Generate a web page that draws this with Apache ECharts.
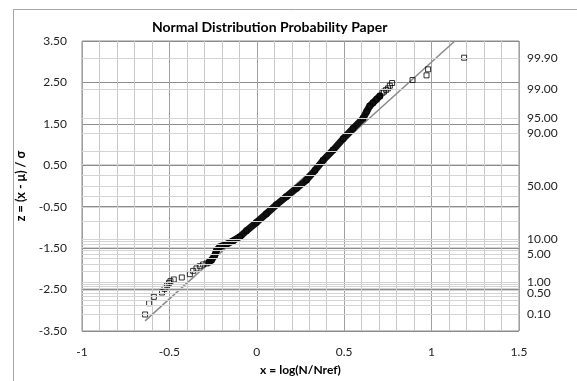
<!DOCTYPE html>
<html>
<head>
<meta charset="utf-8">
<script src="https://cdn.jsdelivr.net/npm/echarts@6/dist/echarts.min.js"></script>
<style>html,body{margin:0;padding:0;background:#fff;}#c{width:577px;height:381px;}</style>
</head>
<body>
<div id="c"></div>
<script>
// ---- data ----
const xTicks = [-1, -0.5, 0, 0.5, 1, 1.5];
const zTicks = [-3.5, -2.5, -1.5, -0.5, 0.5, 1.5, 2.5, 3.5];
// probability levels (percent) and their standard normal z positions
const probLevels = [99.9, 99, 95, 90, 80, 70, 60, 50, 40, 30, 20, 10, 9, 8, 7, 6, 5, 4, 3, 2, 1, 0.9, 0.8, 0.7, 0.6, 0.5, 0.4, 0.3, 0.2, 0.1];
const probZ = [3.0902, 2.3263, 1.6449, 1.2816, 0.8416, 0.5244, 0.2533, 0, -0.2533, -0.5244, -0.8416, -1.2816, -1.3408, -1.4051, -1.4758, -1.5548, -1.6449, -1.7507, -1.8808, -2.0537, -2.3263, -2.3656, -2.4089, -2.4573, -2.5121, -2.5758, -2.6521, -2.7478, -2.8782, -3.0902];
const probLabeled = [99.9, 99, 95, 90, 50, 10, 5, 1, 0.5, 0.1];

const tailLowX = [-0.639, -0.616, -0.589, -0.542, -0.528, -0.513, -0.502, -0.494, -0.475, -0.429, -0.383, -0.364, -0.345, -0.326, -0.307, -0.288];
const tailLowZ = [-3.101, -2.829, -2.676, -2.570, -2.483, -2.394, -2.338, -2.297, -2.256, -2.208, -2.128, -2.048, -1.990, -1.935, -1.894, -1.870];
const bandX = [-0.273, -0.259, -0.240, -0.230, -0.212, -0.173, -0.136, -0.097, -0.059, -0.002, 0.055, 0.113, 0.170, 0.227, 0.284, 0.332, 0.379, 0.437, 0.494, 0.551, 0.608, 0.628, 0.646, 0.665, 0.685, 0.704];
const bandZ = [-1.838, -1.790, -1.669, -1.548, -1.469, -1.403, -1.324, -1.227, -1.080, -0.880, -0.670, -0.450, -0.255, -0.058, 0.143, 0.376, 0.618, 0.870, 1.140, 1.391, 1.633, 1.792, 1.930, 2.010, 2.092, 2.171];
const tailHighX = [0.719, 0.728, 0.740, 0.751, 0.761, 0.774, 0.891, 0.971, 0.980, 1.186];
const tailHighZ = [2.251, 2.280, 2.320, 2.357, 2.420, 2.486, 2.558, 2.671, 2.816, 3.097];
// fitted normal line end points
const fitX = [-0.639, 1.133];
const fitZ = [-3.256, 3.5];

const zip = (a, b) => a.map((v, i) => [v, b[i]]);
const allPts = zip(tailLowX, tailLowZ).concat(zip(bandX, bandZ), zip(tailHighX, tailHighZ));

const FONT = 'Lato, "Open Sans", sans-serif';

const chart = echarts.init(document.getElementById('c'), null, {renderer: 'canvas'});
chart.setOption({
  animation: false,
  backgroundColor: '#fff',
  title: {
    text: 'Normal Distribution Probability Paper',
    left: 147, top: 15,
    textStyle: {fontFamily: FONT, fontSize: 14, fontWeight: 'bold', color: '#000'}
  },
  graphic: [{
    type: 'rect', left: 11, top: 7, silent: true,
    shape: {x: 0, y: 0, width: 600, height: 400},
    style: {fill: 'none', stroke: '#a6a6a6', lineWidth: 1}
  }],
  grid: {left: 82, top: 41, right: 58, bottom: 50, show: true, borderColor: '#8c8c8c', borderWidth: 1},
  xAxis: {
    type: 'value', min: xTicks[0], max: xTicks[xTicks.length - 1], interval: 0.5,
    name: 'x = log(N/Nref)', nameLocation: 'middle', nameGap: 33,
    nameTextStyle: {fontFamily: FONT, fontSize: 12, fontWeight: 'bold', color: '#000'},
    axisLine: {show: false}, axisTick: {show: false},
    axisLabel: {fontFamily: FONT, fontSize: 12, color: '#222', margin: 15,
      formatter: v => String(Math.round(v * 10) / 10)},
    splitLine: {show: true, lineStyle: {color: '#a0a0a0', width: 1}},
    minorTick: {show: false, splitNumber: 5},
    minorSplitLine: {show: true, lineStyle: {color: '#c8c8c8', width: 1}}
  },
  yAxis: {
    type: 'value', min: zTicks[0], max: zTicks[zTicks.length - 1], interval: 1,
    name: 'z = (x - μ) / σ', nameLocation: 'middle', nameGap: 49, nameRotate: 90,
    nameTextStyle: {fontFamily: FONT, fontSize: 12.5, fontWeight: 'bold', color: '#000'},
    axisLine: {show: false}, axisTick: {show: false},
    axisLabel: {fontFamily: FONT, fontSize: 12, color: '#222', margin: 15,
      formatter: v => v.toFixed(2)},
    splitLine: {show: true, lineStyle: {color: '#8c8c8c', width: 1}}
  },
  series: [
    {
      type: 'line', data: zip(fitX, fitZ), symbol: 'none', silent: true, z: 2,
      lineStyle: {color: '#8a8a8a', width: 1.5},
      markLine: {
        silent: true, symbol: 'none', animation: false,
        data: probLevels.map((p, i) => ({
          yAxis: probZ[i],
          lineStyle: {color: '#d4d4d4', width: 1.2, type: 'solid'},
          label: {show: probLabeled.includes(p), position: 'end', distance: 8,
            formatter: p.toFixed(2), fontFamily: FONT, fontSize: 12, color: '#222'}
        }))
      }
    },
    {
      type: 'line', data: zip(bandX, bandZ), symbol: 'none', silent: true, z: 3,
      lineStyle: {color: '#111', width: 7, cap: 'round', join: 'round'}
    },
    {
      type: 'scatter', data: allPts, symbol: 'rect', symbolSize: 5, z: 4,
      itemStyle: {color: 'rgba(0,0,0,0)', borderColor: '#000', borderWidth: 1}
    }
  ]
});
</script>
</body>
</html>
